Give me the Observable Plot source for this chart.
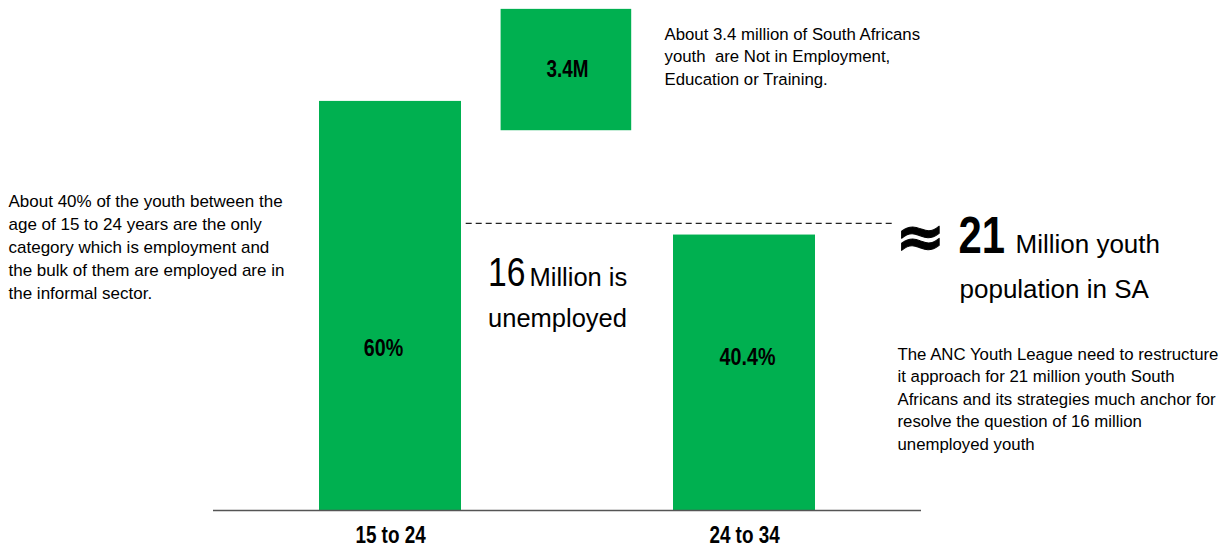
<!DOCTYPE html>
<html>
<head>
<meta charset="utf-8">
<script src="https://cdn.jsdelivr.net/npm/d3@7"></script>
<script src="https://cdn.jsdelivr.net/npm/@observablehq/plot@0.6"></script>
<style>
  html, body { margin: 0; padding: 0; background: #ffffff; }
  #chart svg { display: block; }
</style>
</head>
<body>
<div id="chart"></div>
<script>
// ---- data ----
const categories = ["15 to 24", "NEET", "24 to 34"];
const ageGroups = ["15 to 24", "24 to 34"];
const shareValues = [60, 40.4];
const shareLabels = ["60%", "40.4%"];
const neetCategory = "NEET";
const neetRange = [55.7, 73.5];
const neetLabel = "3.4M";
const referenceLevel = [42.1];
const leftNote = ["About 40% of the youth between the", "age of 15 to 24 years are the only", "category which is employment and", "the bulk of them are employed are in", "the informal sector."];
const neetNote = ["About 3.4 million of South Africans", "youth  are Not in Employment,", "Education or Training."];
const unemployedNumber = "16";
const unemployedText = ["Million is", "unemployed"];
const totalSymbol = "\u2248";
const totalNumber = "21";
const totalText = ["Million youth", "population in SA"];
const ancNote = ["The ANC Youth League need to restructure", "it approach for 21 million youth South", "Africans and its strategies much anchor for", "resolve the question of 16 million", "unemployed youth"];

// ---- derived tables ----
const bars = ageGroups.map((g, i) => ({group: g, value: shareValues[i], label: shareLabels[i]}));
const neet = [{group: neetCategory, low: neetRange[0], high: neetRange[1], label: neetLabel}];

const GREEN = "#00B050";
const REG = "'Liberation Sans', Arial, Helvetica, sans-serif";
const FL = 213; // frame left
const NARROW_FACTOR = 0.82;
const narrowTexts = new Set([...shareLabels, neetLabel, unemployedNumber, totalNumber, ...ageGroups]);

const chart = Plot.plot({
  width: 1225,
  height: 548,
  marginLeft: 213,
  marginRight: 304,
  marginTop: 0,
  marginBottom: 38,
  style: {fontFamily: REG, background: "#ffffff", color: "#000"},
  x: {domain: categories, paddingInner: 0.2, paddingOuter: 0.6, align: 0.5, axis: null},
  y: {domain: [0, 74.8], axis: null},
  marks: [
    Plot.barY(bars, {x: "group", y: "value", fill: GREEN}),
    Plot.rectY(neet, {x: "group", y1: "low", y2: "high", fill: GREEN, insetLeft: 4.6, insetRight: 6.8}),
    Plot.ruleY([0], {stroke: "#555", strokeWidth: 1.6}),
    Plot.ruleY(referenceLevel, {stroke: "#222", strokeWidth: 1.2, strokeDasharray: "6,4", insetLeft: 252.7, insetRight: 26}),
    // bar labels
    Plot.text(bars.filter((d, i) => i === 0), {x: "group", y: 0, dx: -7, dy: -162.5, text: "label", fontWeight: "bold", fontSize: 24, fill: "#000"}),
    Plot.text(bars.filter((d, i) => i === 1), {x: "group", y: 0, dx: 3, dy: -153, text: "label", fontWeight: "bold", fontSize: 24, fill: "#000"}),
    Plot.text(neet, {x: "group", y: d => (d.low + d.high) / 2, text: "label", fontWeight: "bold", fontSize: 23, fill: "#000"}),
    // category axis
    Plot.axisX({ticks: ageGroups, tickSize: 0, tickPadding: 16, fontWeight: "bold", fontSize: 23, fill: "#000", label: null}),
    // annotations
    Plot.text([leftNote.join("\n")], {frameAnchor: "top-left", dx: 8 - FL, dy: 190.6, text: d => d, textAnchor: "start", lineAnchor: "top", lineHeight: 1.353, fontSize: 17, fill: "#000"}),
    Plot.text([neetNote.join("\n")], {frameAnchor: "top-left", dx: 664 - FL, dy: 23.1, text: d => d, textAnchor: "start", lineAnchor: "top", lineHeight: 1.34, fontSize: 16.8, fill: "#000"}),
    Plot.text([unemployedNumber], {frameAnchor: "top-left", dx: 525 - FL, dy: 285, text: d => d, textAnchor: "end", lineAnchor: "bottom", fontSize: 41, fill: "#000"}),
    Plot.text([unemployedText[0]], {frameAnchor: "top-left", dx: 529 - FL, dy: 285, text: d => d, textAnchor: "start", lineAnchor: "bottom", fontSize: 25.5, fill: "#000"}),
    Plot.text([unemployedText[1]], {frameAnchor: "top-left", dx: 557 - FL, dy: 326.7, text: d => d, textAnchor: "middle", lineAnchor: "bottom", fontSize: 25.5, fill: "#000"}),
    Plot.text([totalSymbol], {frameAnchor: "top-left", dx: 920 - FL, dy: 256, text: d => d, textAnchor: "middle", lineAnchor: "bottom", fontFamily: "'DejaVu Sans', sans-serif", fontWeight: "bold", fontSize: 60, fill: "#000", stroke: "#000", strokeWidth: 1}),
    Plot.text([totalNumber], {frameAnchor: "top-left", dx: 958 - FL, dy: 252, text: d => d, textAnchor: "start", lineAnchor: "bottom", fontWeight: "bold", fontSize: 51, fill: "#000"}),
    Plot.text([totalText[0]], {frameAnchor: "top-left", dx: 1015 - FL, dy: 252, text: d => d, textAnchor: "start", lineAnchor: "bottom", fontSize: 26, fill: "#000"}),
    Plot.text([totalText[1]], {frameAnchor: "top-left", dx: 959 - FL, dy: 297, text: d => d, textAnchor: "start", lineAnchor: "bottom", fontSize: 26, fill: "#000"}),
    Plot.text([ancNote.join("\n")], {frameAnchor: "top-left", dx: 897 - FL, dy: 355 - 0.71 * 16.8, text: d => d, textAnchor: "start", lineAnchor: "top", lineHeight: 1.345, fontSize: 16.8, fill: "#000"})
  ]
});
document.getElementById("chart").appendChild(chart);

// emulate the condensed typeface the reference uses for numbers and category labels
d3.select(chart)
  .selectAll("text")
  .filter(function () { return narrowTexts.has(this.textContent); })
  .each(function () {
    const len = this.getComputedTextLength();
    if (len > 0) {
      this.setAttribute("textLength", (len * NARROW_FACTOR).toFixed(2));
      this.setAttribute("lengthAdjust", "spacingAndGlyphs");
    }
  });
</script>
</body>
</html>
